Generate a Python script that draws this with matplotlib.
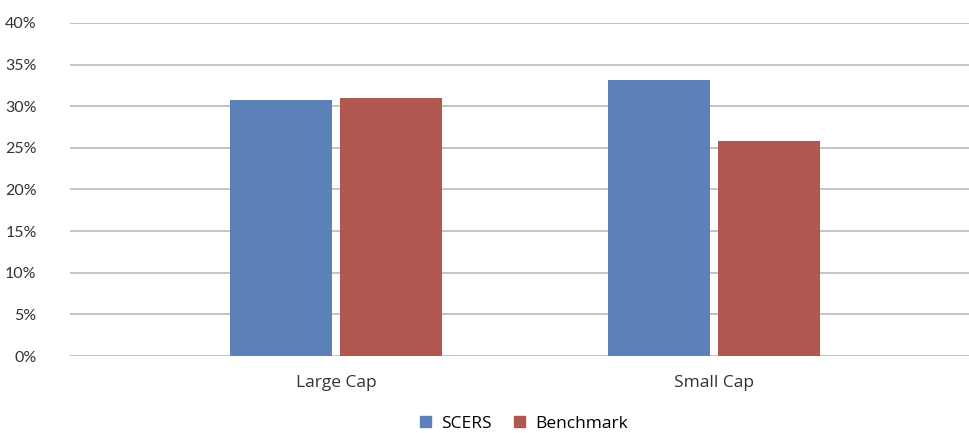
import numpy as np
from matplotlib import pyplot as plt
from matplotlib.patches import Patch

# Data
categories = ['Large Cap', 'Small Cap']
scers = [30.7, 33.2]
benchmark = [31.05, 25.8]
yticks = [0, 5, 10, 15, 20, 25, 30, 35, 40]

BLUE = '#5b81b8'
RED = '#b1574f'
GRID = '#c4c4c4'

fig = plt.figure(figsize=(9.69, 4.33), dpi=100)
ax = fig.add_axes([70 / 969, 77 / 433, 899 / 969, 333 / 433])

x = np.arange(len(categories))
w = 0.27
off = 0.1455
ax.bar(x - off, scers, w, color=BLUE, zorder=3)
ax.bar(x + off, benchmark, w, color=RED, zorder=3)

# Formatting
ax.set_ylim(0, 40)
ax.set_xlim(-0.704, 1.675)
ax.set_yticks(yticks)
ax.set_yticklabels([f'{t}%' for t in yticks], fontsize=11.5, color='#333333', family='Lato')
ax.set_xticks(x)
ax.set_xticklabels(categories, fontsize=12.5, color='#333333', family='Open Sans')
ax.tick_params(axis='y', length=0, pad=24)
ax.tick_params(axis='x', length=0, pad=14)
ax.yaxis.grid(True, color=GRID, linewidth=1.4, zorder=0)
for s in ax.spines.values():
    s.set_visible(False)

handles = [Patch(color=BLUE, label='SCERS'), Patch(color=RED, label='Benchmark')]
fig.legend(handles=handles, loc='center', bbox_to_anchor=(524 / 969, 1 - 424 / 433), ncol=2,
           frameon=False, handlelength=0.6, handleheight=0.6, handletextpad=0.6, columnspacing=1.3,
           prop={'family': 'Open Sans', 'size': 12.5})

fig.savefig('out.png', dpi=100)
